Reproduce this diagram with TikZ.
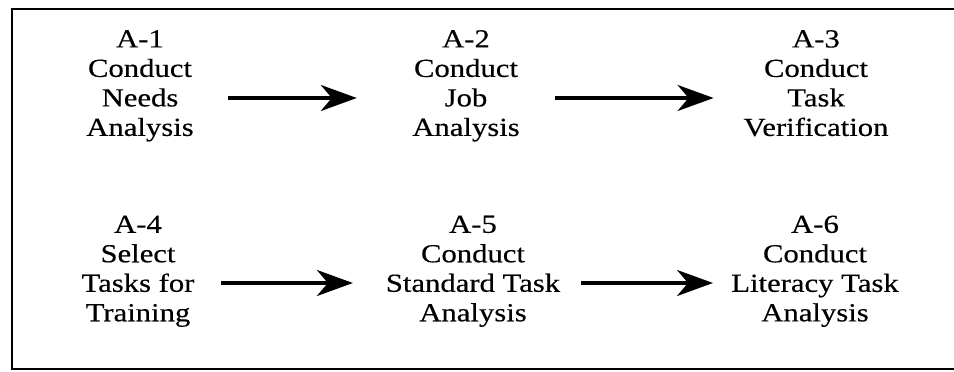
\documentclass[tikz,border=0pt]{standalone}
\usepackage{fontspec}
\setmainfont{Liberation Serif}[FakeStretch=1.18,FakeBold=0.4]
\usetikzlibrary{arrows.meta}
\begin{document}
\begin{tikzpicture}[x=1pt,y=-1pt,
  stepbox/.style={anchor=north,inner sep=0pt,align=center,font=\fontsize{26}{29.5}\selectfont},
  flow/.style={line width=3.2pt,-{Stealth[length=36pt,width=26pt,inset=11pt]}},
  frame/.style={line width=2.8pt}]
\useasboundingbox (0,0) rectangle (954,372);
\draw[frame] (954,9) -- (12,9) -- (12,369) -- (954,369);
\node[stepbox] (a1) at (140,30) {A-1\\Conduct\\Needs\\Analysis};
\node[stepbox] (a2) at (466,30) {A-2\\Conduct\\Job\\Analysis};
\node[stepbox] (a3) at (816,30) {A-3\\Conduct\\Task\\Verification};
\node[stepbox] (a4) at (138,215.4) {A-4\\Select\\Tasks for\\Training};
\node[stepbox] (a5) at (473,215.4) {A-5\\Conduct\\Standard Task\\Analysis};
\node[stepbox] (a6) at (815,215.4) {A-6\\Conduct\\Literacy Task\\Analysis};
\coordinate (r1) at (0,98);
\coordinate (r2) at (0,283);
\draw[flow] ([xshift=34.3pt]a1.east |- r1) -- ([xshift=-55.3pt]a2.west |- r1);
\draw[flow] ([xshift=35.3pt]a2.east |- r1) -- ([xshift=-29.8pt]a3.west |- r1);
\draw[flow] ([xshift=26.5pt]a4.east |- r2) -- ([xshift=-32.8pt]a5.west |- r2);
\draw[flow] ([xshift=20.8pt]a5.east |- r2) -- ([xshift=-18.1pt]a6.west |- r2);
\end{tikzpicture}
\end{document}
